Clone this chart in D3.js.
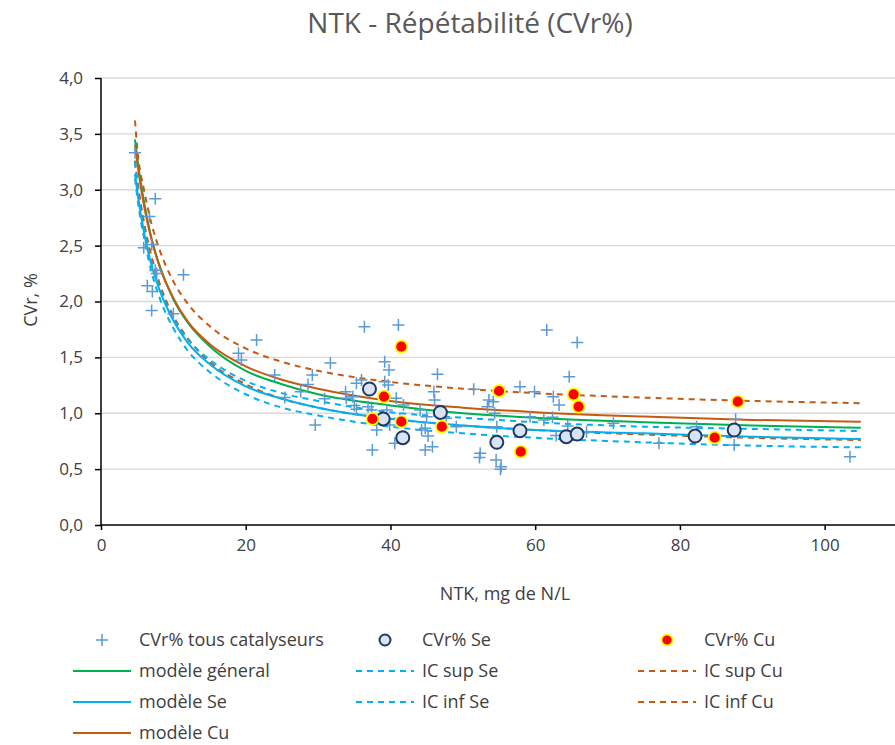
<!DOCTYPE html>
<html>
<head>
<meta charset="utf-8">
<script src="https://cdn.jsdelivr.net/npm/d3@7/dist/d3.min.js"></script>
<style>
  html, body { margin: 0; padding: 0; background: #ffffff; }
  svg { display: block; }
  text { font-family: "Open Sans", sans-serif; }
</style>
</head>
<body>
<svg id="chart" width="895" height="745"></svg>
<script>
// ---------- data ----------
const xTicks = [0, 20, 40, 60, 80, 100];
const yTicks = [0, 0.5, 1, 1.5, 2, 2.5, 3, 3.5, 4];

// all catalysts (x = NTK mg N/L, y = CVr %)
const allX = [4.7, 7.5, 6.7, 7.0, 5.9, 7.5, 7.7, 11.4, 6.4, 7.1, 7.0, 10.0,
  21.5, 19.0, 19.4, 24.0, 25.4, 27.6, 28.6, 29.2, 31.7, 30.9, 29.6, 33.8, 33.9, 35.3, 36.0, 34.8, 35.0, 35.3,
  36.4, 41.1, 39.2, 39.8, 39.2, 39.7, 36.9, 37.4, 40.8, 41.8, 39.5, 38.1, 39.9, 40.6, 37.5, 41.3,
  46.5, 46.0, 46.1, 44.1, 45.0, 44.8, 44.3, 45.2, 44.8, 45.8, 49.1, 47.7, 51.5, 53.6, 54.2, 53.4, 54.4, 54.7,
  52.4, 52.3, 54.6, 55.2, 57.9, 59.9, 59.3,
  61.6, 65.8, 64.7, 62.5, 63.3, 61.2, 62.4, 64.5, 62.9, 67.1, 70.8, 77.1, 55.3, 82.3,
  87.7, 87.5, 103.5];
const allY = [3.33, 2.92, 2.76, 2.51, 2.48, 2.28, 2.25, 2.24, 2.14, 2.09, 1.92, 1.89,
  1.655, 1.537, 1.477, 1.342, 1.14, 1.193, 1.258, 1.342, 1.45, 1.13, 0.895, 1.193, 1.134, 1.268, 1.298, 1.148, 1.07, 1.035,
  1.775, 1.79, 1.461, 1.387, 1.282, 1.253, 1.059, 1.029, 1.134, 1.074, 1.029, 0.85, 0.895, 0.731, 0.671, 0.955,
  1.348, 1.193, 1.119, 1.029, 0.969, 0.865, 0.85, 0.796, 0.671, 0.701, 0.88, 0.955, 1.214, 1.119, 1.104, 1.059, 1.0, 0.88,
  0.642, 0.605, 0.582, 0.498, 1.238, 1.193, 0.969,
  1.745, 1.632, 1.327, 1.148, 1.074, 0.94, 0.965, 0.886, 0.8, 0.835, 0.91, 0.731, 0.522, 0.88,
  0.946, 0.716, 0.611];

// Se catalyst
const seX = [37.1, 39.0, 41.7, 46.9, 54.7, 57.9, 64.3, 65.8, 82.1, 87.5];
const seY = [1.217, 0.949, 0.781, 1.007, 0.74, 0.844, 0.79, 0.814, 0.796, 0.85];

// Cu catalyst
const cuX = [37.5, 39.1, 41.5, 41.5, 47.1, 55.0, 58.0, 65.3, 66.0, 84.8, 88.0];
const cuY = [0.949, 1.148, 1.596, 0.925, 0.88, 1.199, 0.656, 1.169, 1.059, 0.781, 1.104];

// model curves
const curveX   = [4.7, 5, 6, 7, 8, 10, 12, 15, 20, 25, 30, 40, 50, 60, 75, 90, 105];
const modGen   = [3.45, 3.29, 2.87, 2.56, 2.34, 2.02, 1.81, 1.60, 1.38, 1.26, 1.17, 1.07, 1.00, 0.96, 0.92, 0.89, 0.87];
const modSe    = [3.14, 2.99, 2.60, 2.32, 2.12, 1.83, 1.63, 1.44, 1.24, 1.13, 1.05, 0.95, 0.89, 0.85, 0.82, 0.79, 0.77];
const modCu    = [3.40, 3.25, 2.84, 2.55, 2.33, 2.03, 1.82, 1.62, 1.42, 1.30, 1.22, 1.11, 1.05, 1.01, 0.97, 0.94, 0.925];
const icSupSe  = [3.25, 3.05, 2.62, 2.34, 2.14, 1.85, 1.66, 1.48, 1.29, 1.18, 1.11, 1.01, 0.96, 0.92, 0.88, 0.86, 0.84];
const icInfSe  = [3.10, 2.94, 2.55, 2.26, 2.05, 1.76, 1.56, 1.37, 1.17, 1.05, 0.98, 0.88, 0.82, 0.78, 0.74, 0.71, 0.695];
const icSupCu  = [3.62, 3.38, 2.98, 2.69, 2.48, 2.18, 1.98, 1.78, 1.58, 1.46, 1.38, 1.28, 1.22, 1.18, 1.14, 1.11, 1.09];
const icInfCu  = [3.26, 3.10, 2.69, 2.40, 2.18, 1.87, 1.67, 1.46, 1.26, 1.13, 1.05, 0.95, 0.89, 0.85, 0.81, 0.78, 0.76];

const legendLabels = ["CVr% tous catalyseurs", "CVr% Se", "CVr% Cu",
  "modèle géneral", "IC sup Se", "IC sup Cu",
  "modèle Se", "IC inf Se", "IC inf Cu", "modèle Cu"];

// ---------- styles ----------
const C = {
  cross: "#5B9BD5", green: "#00B050", blue: "#00B0F0", orange: "#C55A11",
  seFill: "#DAE3F3", seStroke: "#1F3864", cuFill: "#FF0000", cuStroke: "#FFFF00",
  grid: "#D9D9D9", text: "#404040", axis: "#000000"
};

const svg = d3.select("#chart");
const x = d3.scaleLinear().domain([0, 110]).range([101, 897]);
const y = d3.scaleLinear().domain([0, 4]).range([525, 78]);

// gridlines
svg.append("g").selectAll("line").data(yTicks.filter(d => d > 0)).join("line")
  .attr("x1", x(0)).attr("x2", x(110)).attr("y1", d => y(d)).attr("y2", d => y(d))
  .attr("stroke", C.grid).attr("stroke-width", 1.3);

// axes
const fmt = d => d3.format(".1f")(d).replace(".", ",");
const yAxis = svg.append("g").attr("transform", `translate(${x(0)},0)`)
  .call(d3.axisLeft(y).tickValues(yTicks).tickFormat(fmt).tickSize(6).tickPadding(12));
const xAxis = svg.append("g").attr("transform", `translate(0,${y(0)})`)
  .call(d3.axisBottom(x).tickValues(xTicks).tickFormat(d3.format("d")).tickSize(5).tickPadding(9));
[xAxis, yAxis].forEach(g => {
  g.select(".domain").attr("stroke", C.axis).attr("stroke-width", 1.5);
  g.selectAll(".tick line").attr("stroke", C.axis).attr("stroke-width", 1.5);
  g.selectAll(".tick text").attr("fill", C.text).style("font-size", "17px")
    .style("font-family", "'Open Sans', sans-serif");
});
xAxis.select(".domain").attr("d", `M${x(0)},0H${x(110)}`);
yAxis.select(".domain").attr("d", `M0,${y(4)}V${y(0)}`);

// curves
const line = d3.line().x(d => x(d[0])).y(d => y(d[1])).curve(d3.curveMonotoneX);
const curves = [
  {v: icSupCu, c: C.orange, dash: "6,5"},
  {v: icInfCu, c: C.orange, dash: "6,5"},
  {v: icSupSe, c: C.blue, dash: "6,5"},
  {v: icInfSe, c: C.blue, dash: "6,5"},
  {v: modSe, c: C.blue, dash: null},
  {v: modGen, c: C.green, dash: null},
  {v: modCu, c: C.orange, dash: null}
];
const plot = svg.append("g");
curves.forEach(k => {
  plot.append("path").datum(curveX.map((cx, i) => [cx, k.v[i]]))
    .attr("d", line).attr("fill", "none").attr("stroke", k.c).attr("stroke-width", 2)
    .attr("stroke-dasharray", k.dash);
});

// crosses
function crossPath(cx, cy, s) { return `M${cx - s},${cy}H${cx + s}M${cx},${cy - s}V${cy + s}`; }
plot.append("g").selectAll("path").data(allX.map((d, i) => [d, allY[i]])).join("path")
  .attr("d", d => crossPath(x(d[0]), y(d[1]), 6))
  .attr("stroke", C.cross).attr("stroke-width", 1.5).attr("fill", "none");

// Se circles
plot.append("g").selectAll("circle").data(seX.map((d, i) => [d, seY[i]])).join("circle")
  .attr("cx", d => x(d[0])).attr("cy", d => y(d[1])).attr("r", 6.5)
  .attr("fill", C.seFill).attr("stroke", C.seStroke).attr("stroke-width", 2);

// Cu points
plot.append("g").selectAll("circle").data(cuX.map((d, i) => [d, cuY[i]])).join("circle")
  .attr("cx", d => x(d[0])).attr("cy", d => y(d[1])).attr("r", 6)
  .attr("fill", C.cuFill).attr("stroke", C.cuStroke).attr("stroke-width", 1.8);

// titles
svg.append("text").attr("x", 470).attr("y", 33).attr("text-anchor", "middle")
  .attr("fill", "#595959").style("font-size", "28px").text("NTK - Répétabilité (CVr%)");
svg.append("text").attr("x", 505).attr("y", 600).attr("text-anchor", "middle")
  .attr("fill", C.text).style("font-size", "18px").text("NTK, mg de N/L");
svg.append("text").attr("transform", "translate(37,300) rotate(-90)").attr("text-anchor", "middle")
  .attr("fill", C.text).style("font-size", "18px").text("CVr, %");

// legend
const colX = [73, 356, 638];
const rowY = [640, 671, 702, 733];
const lg = svg.append("g");
const items = [
  {type: "cross", col: 0, row: 0},
  {type: "se", col: 1, row: 0},
  {type: "cu", col: 2, row: 0},
  {type: "line", c: C.green, col: 0, row: 1},
  {type: "dash", c: C.blue, col: 1, row: 1},
  {type: "dash", c: C.orange, col: 2, row: 1},
  {type: "line", c: C.blue, col: 0, row: 2},
  {type: "dash", c: C.blue, col: 1, row: 2},
  {type: "dash", c: C.orange, col: 2, row: 2},
  {type: "line", c: C.orange, col: 0, row: 3}
];
items.forEach((it, i) => {
  const x0 = colX[it.col], yy = rowY[it.row], w = 58, cx = x0 + w / 2;
  if (it.type === "cross") {
    lg.append("path").attr("d", crossPath(cx, yy, 6)).attr("stroke", C.cross).attr("stroke-width", 1.5);
  } else if (it.type === "se") {
    lg.append("circle").attr("cx", cx).attr("cy", yy).attr("r", 5.5)
      .attr("fill", C.seFill).attr("stroke", C.seStroke).attr("stroke-width", 2);
  } else if (it.type === "cu") {
    lg.append("circle").attr("cx", cx).attr("cy", yy).attr("r", 5.5)
      .attr("fill", C.cuFill).attr("stroke", C.cuStroke).attr("stroke-width", 1.8);
  } else {
    lg.append("line").attr("x1", x0).attr("x2", x0 + w).attr("y1", yy).attr("y2", yy)
      .attr("stroke", it.c).attr("stroke-width", 2)
      .attr("stroke-dasharray", it.type === "dash" ? "6,5" : null);
  }
  lg.append("text").attr("x", x0 + w + 8).attr("y", yy).attr("dy", "0.35em")
    .attr("fill", C.text).style("font-size", "18px").text(legendLabels[i]);
});
</script>
</body>
</html>
